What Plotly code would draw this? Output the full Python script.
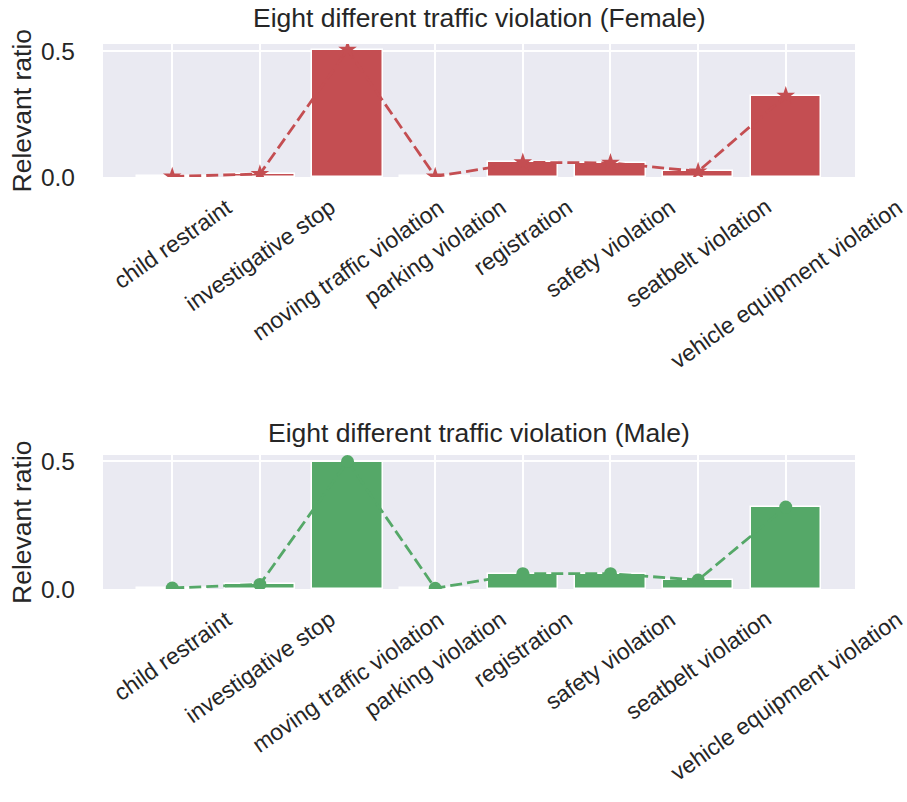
import plotly.graph_objects as go

categories = ["child restraint", "investigative stop", "moving traffic violation",
              "parking violation", "registration", "safety violation",
              "seatbelt violation", "vehicle equipment violation"]
female_ratio = [0.002, 0.012, 0.505, 0.002, 0.058, 0.056, 0.022, 0.322]
male_ratio = [0.004, 0.018, 0.498, 0.003, 0.060, 0.060, 0.035, 0.320]
titles = ["Eight different traffic violation (Female)", "Eight different traffic violation (Male)"]
y_ticks = [0.0, 0.5]

RED = "#C44E52"
GREEN = "#55A868"
BG = "#EAEAF2"
TXT = "#262626"
FONT = "Liberation Sans, Arial, sans-serif"

xs = list(range(len(categories)))
fig = go.Figure()

fig.add_trace(go.Bar(x=xs, y=female_ratio, width=0.8, marker=dict(color=RED, line=dict(color="white", width=1.5)),
                     xaxis="x", yaxis="y", showlegend=False))
fig.add_trace(go.Scatter(x=xs, y=female_ratio, mode="lines+markers",
                         line=dict(color=RED, width=2.8, dash="12px,5px"),
                         marker=dict(symbol="star", size=14, color=RED),
                         xaxis="x", yaxis="y", showlegend=False))
fig.add_trace(go.Bar(x=xs, y=male_ratio, width=0.8, marker=dict(color=GREEN, line=dict(color="white", width=1.5)),
                     xaxis="x2", yaxis="y2", showlegend=False))
fig.add_trace(go.Scatter(x=xs, y=male_ratio, mode="lines+markers",
                         line=dict(color=GREEN, width=2.8, dash="12px,5px"),
                         marker=dict(symbol="circle", size=13, color=GREEN),
                         xaxis="x2", yaxis="y2", showlegend=False))

xcommon = dict(range=[-0.79, 7.79], tickvals=xs, showticklabels=False, showgrid=True,
               gridcolor="white", gridwidth=1.5, zeroline=False, showline=False, ticks="")
ycommon = dict(tickvals=y_ticks, tickformat=".1f", showgrid=True, gridcolor="white", gridwidth=1.5,
               zeroline=False, showline=False, ticks="", ticklabelstandoff=27,
               tickfont=dict(size=24.5, color=TXT, family=FONT))

fig.update_layout(
    width=907, height=802,
    margin=dict(l=103, r=52, t=44, b=213),
    paper_bgcolor="white", plot_bgcolor=BG,
    font=dict(family=FONT, color=TXT),
    bargap=0,
    xaxis=dict(domain=[0, 1], anchor="y", **xcommon),
    yaxis=dict(domain=[0.756, 1.0], anchor="x", range=[0, 0.528], **ycommon),
    xaxis2=dict(domain=[0, 1], anchor="y2", **xcommon),
    yaxis2=dict(domain=[0.0, 0.2459], anchor="x2", range=[0, 0.5235], **ycommon),
)

annotations = []
for xa, ya in [("x", "y"), ("x2", "y2")]:
    for i, c in enumerate(categories):
        annotations.append(dict(x=i, y=0, xref=xa, yref=ya + " domain", text=c, showarrow=False,
                                textangle=-35, xanchor="center", yanchor="top", yshift=-14,
                                font=dict(size=23, color=TXT, family=FONT)))
# subplot titles
annotations.append(dict(x=0.5, y=1.0477, xref="paper", yref="paper", text=titles[0], showarrow=False,
                        xanchor="center", yanchor="middle", font=dict(size=26.5, color=TXT, family=FONT)))
annotations.append(dict(x=0.5, y=0.2862, xref="paper", yref="paper", text=titles[1], showarrow=False,
                        xanchor="center", yanchor="middle", font=dict(size=26.5, color=TXT, family=FONT)))
# y axis titles
for yc in [(589 - 110.5) / 545, (589 - 522) / 545]:
    annotations.append(dict(x=(22 - 103) / 752, y=yc, xref="paper", yref="paper", text="Relevant ratio",
                            showarrow=False, textangle=-90, xanchor="center", yanchor="middle",
                            font=dict(size=26.5, color=TXT, family=FONT)))
fig.update_layout(annotations=annotations)

fig.write_html("out.html", config={"displayModeBar": False},
               post_script="document.body.style.margin='0px';")
